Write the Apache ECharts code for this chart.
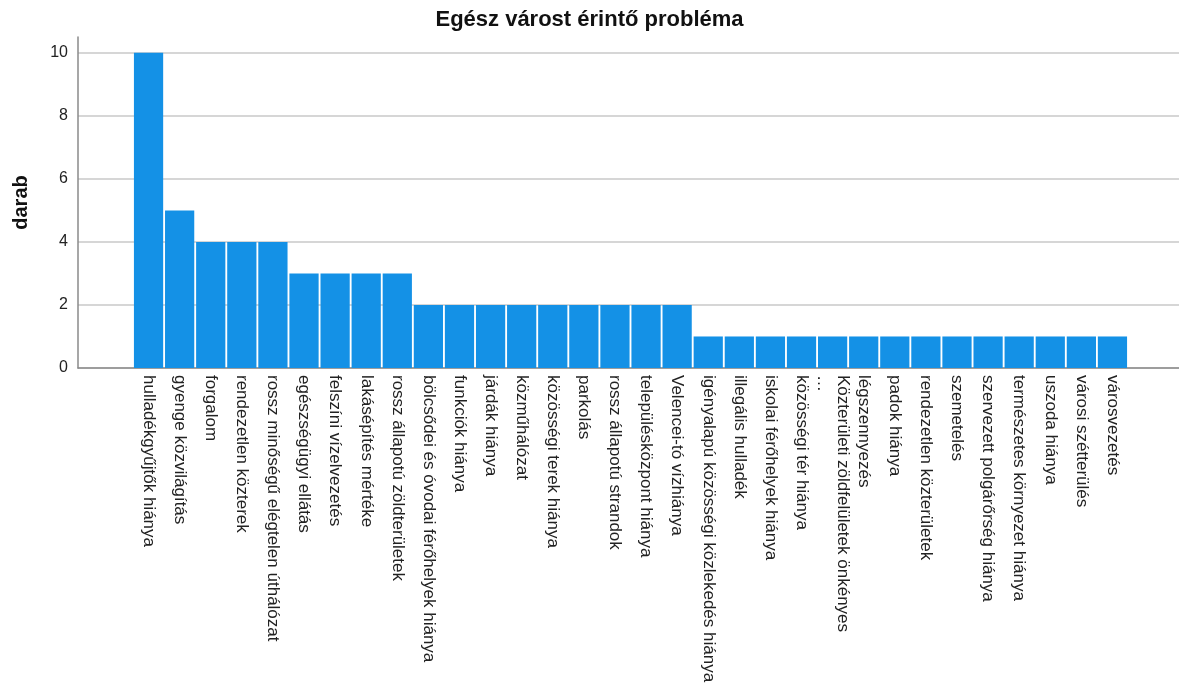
<!DOCTYPE html>
<html>
<head>
<meta charset="utf-8">
<script src="https://cdn.jsdelivr.net/npm/echarts@6/dist/echarts.min.js"></script>
<style>
  html, body { margin: 0; padding: 0; background: #fff; }
  #chart { width: 1179px; height: 695px; }
</style>
</head>
<body>
<div id="chart"></div>
<script>
// categories and counts, in the order they appear
var categories = [
  'hulladékgyűjtők hiánya', 'gyenge közvilágítás', 'forgalom', 'rendezetlen közterek',
  'rossz minőségű elégtelen úthálózat', 'egészségügyi ellátás', 'felszíni vízelvezetés',
  'lakásépítés mértéke', 'rossz állapotú zöldterületek', 'bölcsődei és óvodai férőhelyek hiánya',
  'funkciók hiánya', 'járdák hiánya', 'közműhálózat', 'közösségi terek hiánya', 'parkolás',
  'rossz állapotú strandok', 'településközpont hiánya', 'Velencei-tó vízhiánya',
  'igényalapú közösségi közlekedés hiánya', 'illegális hulladék', 'iskolai férőhelyek hiánya',
  'közösségi tér hiánya', 'Közterületi zöldfelületek önkényes\n…', 'légszennyezés',
  'padok hiánya', 'rendezetlen közterületek', 'szemetelés', 'szervezett polgárőrség hiánya',
  'természetes környezet hiánya', 'uszoda hiánya', 'városi szétterülés', 'városvezetés'
];
var counts = [10, 5, 4, 4, 4, 3, 3, 3, 3, 2, 2, 2, 2, 2, 2, 2, 2, 2,
  1, 1, 1, 1, 1, 1, 1, 1, 1, 1, 1, 1, 1, 1];
var yTicks = { min: 0, max: 10.5, interval: 2 };

var chart = echarts.init(document.getElementById('chart'));
var font = 'Liberation Sans, Arial, sans-serif';

chart.setOption({
  animation: false,
  title: {
    text: 'Egész várost érintő probléma',
    left: 'center',
    top: 4,
    textStyle: { fontFamily: font, fontSize: 22, fontWeight: 'bold', color: '#111' }
  },
  grid: [
    // frame: y axis + gridlines over the full width
    { left: 78, right: 0, top: 37, bottom: 327 },
    // bars sit inside, with SPSS-style side padding
    { left: 133, right: 51, top: 37, bottom: 327 }
  ],
  xAxis: [
    {
      gridIndex: 0, type: 'category', data: [''],
      axisLine: { lineStyle: { color: '#8a8a8a', width: 1.5 } },
      axisTick: { show: false }, axisLabel: { show: false }
    },
    {
      gridIndex: 1, type: 'category', data: categories,
      axisLine: { show: false }, axisTick: { show: false },
      axisLabel: {
        interval: 0, rotate: -90, margin: 7,
        fontFamily: font, fontSize: 17, color: '#222', lineHeight: 20
      }
    }
  ],
  yAxis: [
    {
      gridIndex: 0, type: 'value',
      min: yTicks.min, max: yTicks.max, interval: yTicks.interval,
      name: 'darab', nameLocation: 'middle', nameGap: 47, nameRotate: 90,
      nameTextStyle: { fontFamily: font, fontSize: 20, fontWeight: 'bold', color: '#111' },
      axisLine: { show: true, lineStyle: { color: '#8a8a8a', width: 1.5 } },
      axisTick: { show: false },
      axisLabel: { fontFamily: font, fontSize: 16, color: '#222', margin: 10, showMaxLabel: false },
      splitLine: { showMaxLine: false, lineStyle: { color: '#c8c8c8', width: 1.5 } }
    },
    {
      gridIndex: 1, type: 'value',
      min: yTicks.min, max: yTicks.max, interval: yTicks.interval,
      show: false, splitLine: { show: false }
    }
  ],
  series: [{
    type: 'bar',
    xAxisIndex: 1, yAxisIndex: 1,
    data: counts,
    barCategoryGap: '6%',
    itemStyle: { color: '#1491e6' }
  }]
});
</script>
</body>
</html>
